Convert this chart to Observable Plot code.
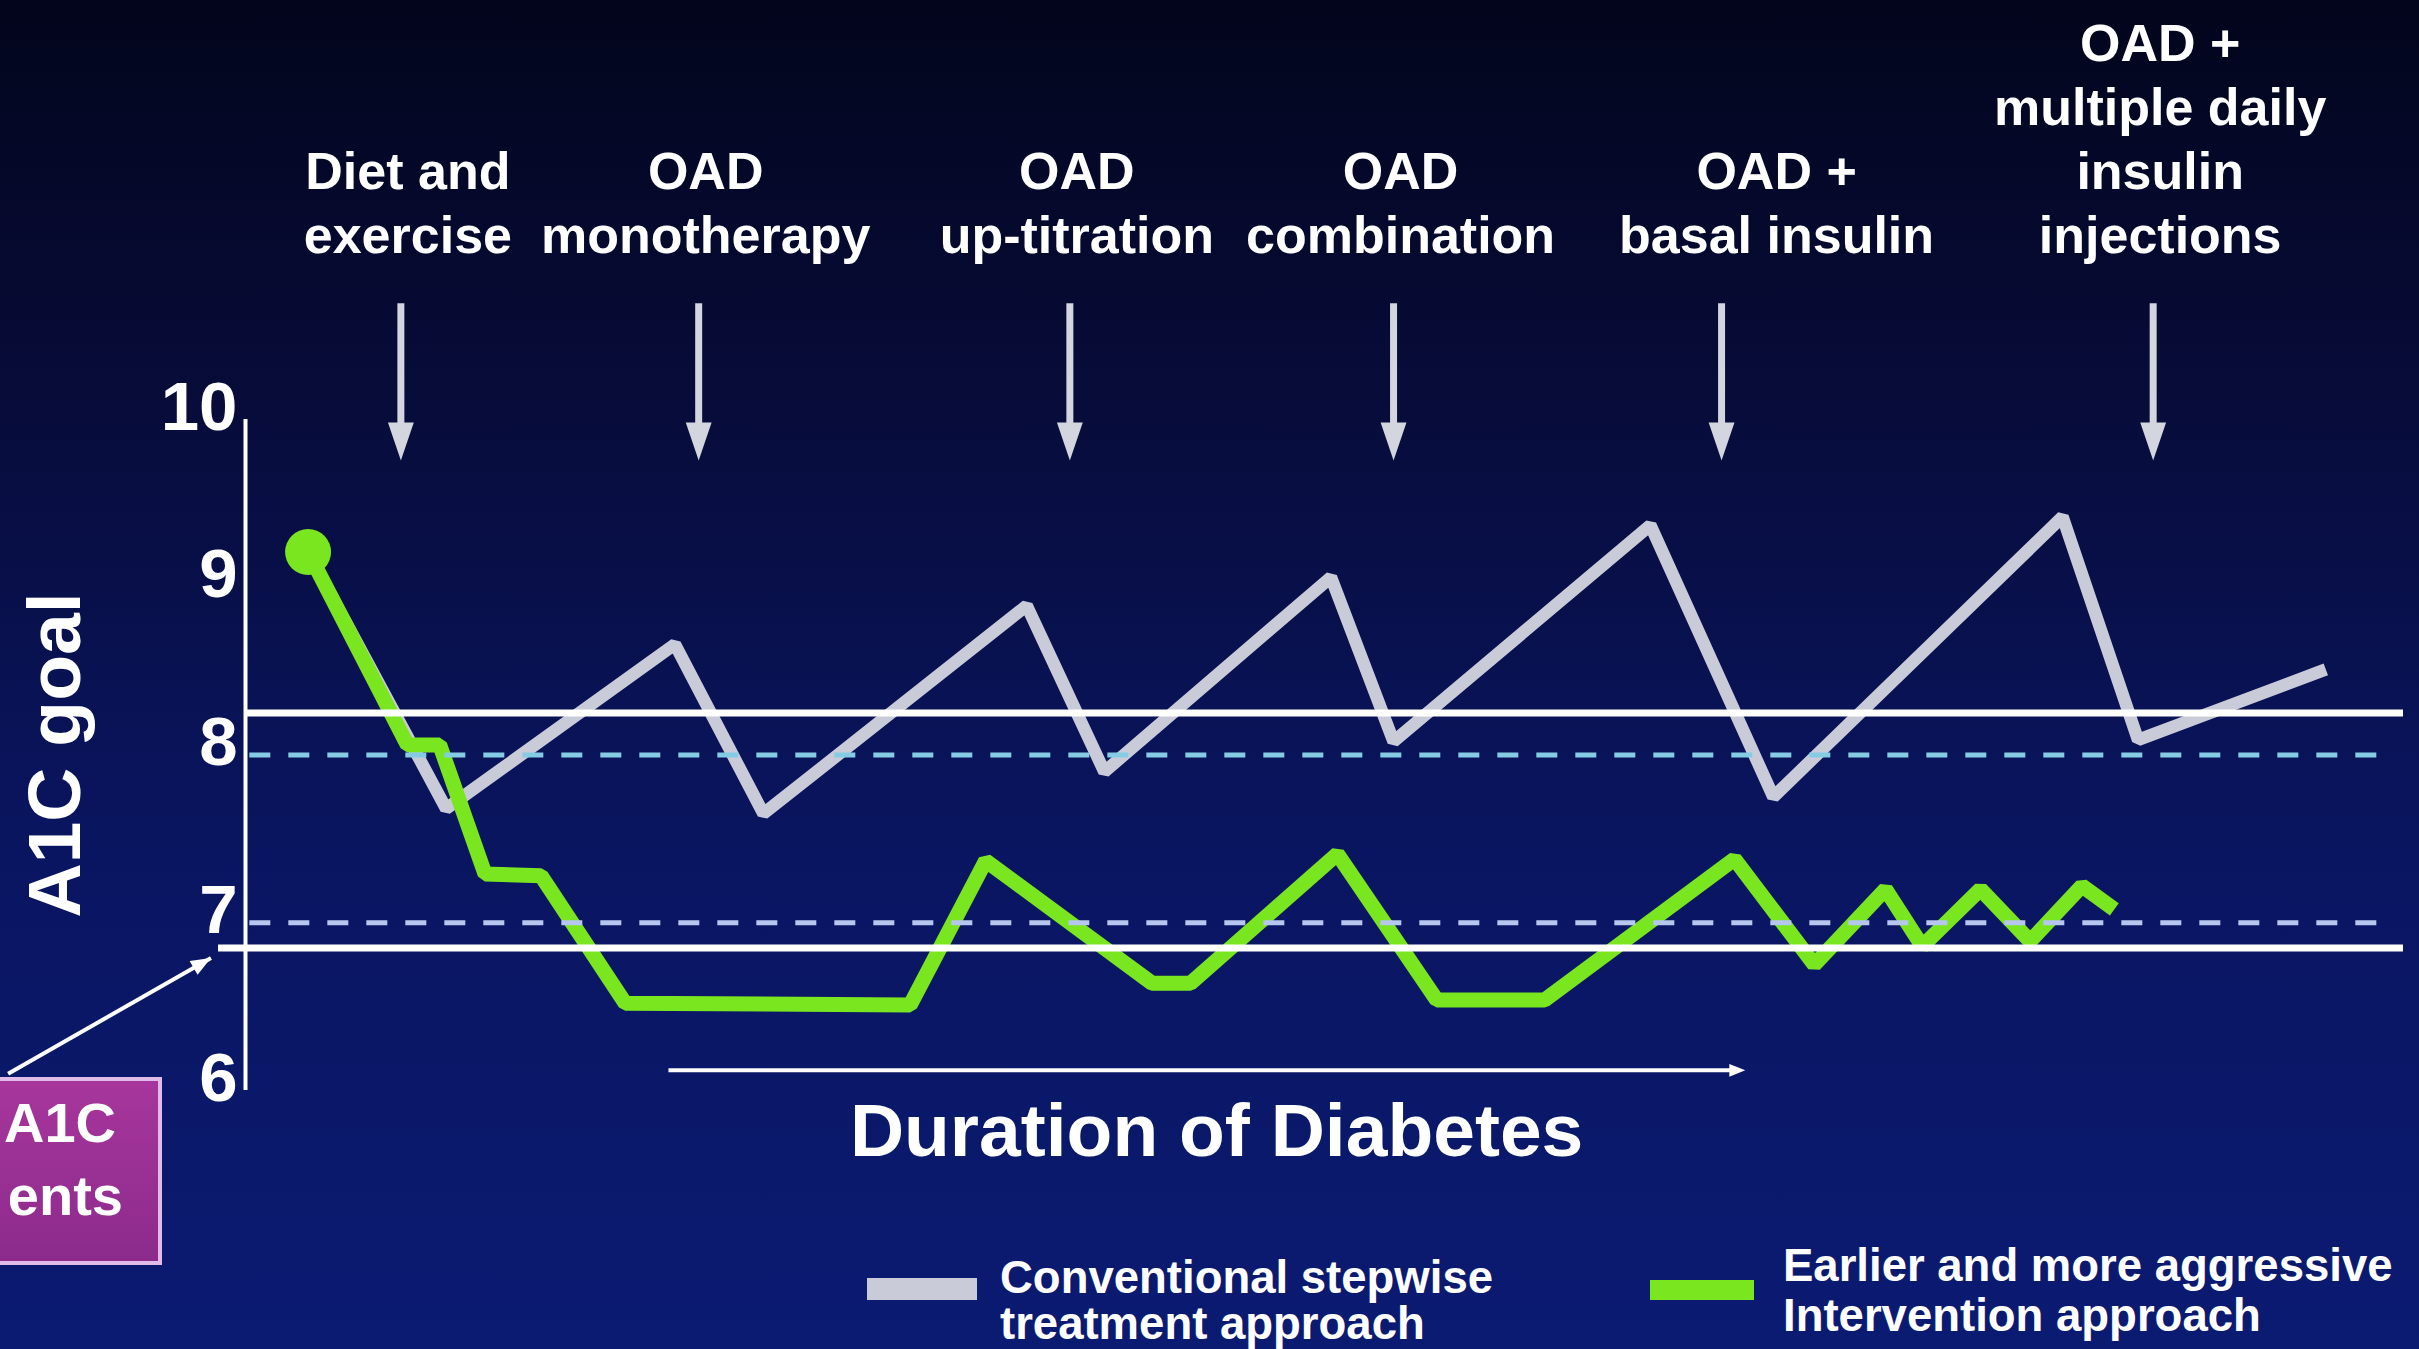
<!DOCTYPE html>
<html>
<head>
<meta charset="utf-8">
<script src="https://cdn.jsdelivr.net/npm/d3@7"></script>
<script src="https://cdn.jsdelivr.net/npm/@observablehq/plot@0.6"></script>
<style>
  html, body { margin: 0; padding: 0; }
  body {
    width: 2419px; height: 1349px; overflow: hidden;
    background: linear-gradient(to bottom, #03051c 0%, #070c3a 30%, #0a1560 62%, #0b1b72 100%);
    font-family: "Liberation Sans", Arial, Helvetica, sans-serif;
  }
  #chart { position: relative; width: 2419px; height: 1349px; }
  #chart svg { position: absolute; left: 0; top: 0; }
  .swatch { position: absolute; }
  .legend-text {
    position: absolute; color: #fff; font-weight: bold;
    font-size: 45.5px; white-space: nowrap;
  }
  .callout {
    position: absolute; left: -30px; top: 1077px; width: 192px; height: 188px;
    box-sizing: border-box; border: 4px solid #e2bce8;
    background: linear-gradient(to bottom, #a7369c, #8c2b8c);
  }
  .callout-line {
    position: absolute; color: #fff; font-weight: bold;
    font-size: 56px; line-height: 56px; white-space: nowrap;
  }
</style>
</head>
<body>
<div id="chart"></div>
<script>
// Duration of diabetes (arbitrary time units, 0-100) and A1C (%) for each strategy
const conventionalTime = [2.9, 9.3, 19.9, 24.0, 36.2, 39.8, 50.3, 53.2, 65.1, 70.8, 84.2, 87.7, 96.4];
const conventionalA1c  = [9.21, 7.68, 8.66, 7.65, 8.89, 7.90, 9.06, 8.08, 9.37, 7.75, 9.42, 8.09, 8.51];

const aggressiveTime = [2.9, 7.5, 9.0, 11.1, 13.7, 17.6, 30.8, 34.3, 42.0, 43.8, 50.6, 55.2, 60.2, 69.0, 72.7, 76.0, 77.7, 80.4, 82.7, 85.1, 86.6];
const aggressiveA1c  = [9.21, 8.06, 8.06, 7.29, 7.28, 6.52, 6.51, 7.37, 6.64, 6.64, 7.41, 6.54, 6.54, 7.38, 6.75, 7.20, 6.86, 7.20, 6.89, 7.22, 7.08];

// Treatment steps and when each one starts
const phaseLabels = [
  "Diet and\nexercise",
  "OAD\nmonotherapy",
  "OAD\nup-titration",
  "OAD\ncombination",
  "OAD +\nbasal insulin",
  "OAD +\nmultiple daily\ninsulin\ninjections"
];
const phaseStart = [7.2, 21.0, 38.2, 53.2, 68.4, 88.4];

// Reference levels
const goalLevels = [8, 7];        // dashed A1C goals
const bandLevels = [8.25, 6.85];  // solid band edges
const yTicks = [6, 7, 8, 9, 10];

const seriesNames = ["Conventional stepwise\ntreatment approach", "Earlier and more aggressive\nIntervention approach"];
const calloutLines = ["A1C", "ents"];
const axisTitle = "A1C goal";
const durationTitle = "Duration of Diabetes";

// ---- build tables ----
const conventional = conventionalTime.map((t, i) => ({t, a1c: conventionalA1c[i]}));
const aggressive = aggressiveTime.map((t, i) => ({t, a1c: aggressiveA1c[i]}));
const phases = phaseLabels.map((label, i) => ({label, at: phaseStart[i]}));

const GRAY = "#cacbd9";
const GREEN = "#79e61f";
const ARROW = "#d3d5df";

// narrow, downward-pointing filled arrowhead centred on its position
const arrowHead = {
  draw(ctx, size) {
    const r = Math.sqrt(size / Math.PI);
    ctx.moveTo(-0.68 * r, -r);
    ctx.lineTo(0.68 * r, -r);
    ctx.lineTo(0, r);
    ctx.closePath();
  }
};
// right-pointing filled arrowhead whose tip sits on its position
const tipHead = {
  draw(ctx, size) {
    const r = Math.sqrt(size / Math.PI);
    ctx.moveTo(0, 0);
    ctx.lineTo(-2 * r, -0.8 * r);
    ctx.lineTo(-2 * r, 0.8 * r);
    ctx.closePath();
  }
};

const labelFont = {fontSize: 52, fontWeight: "bold", fill: "white", lineHeight: 1.23};
const nudged = d => d.label.includes("basal");

// pointer from the callout box to the lower band edge
const pointer = {x1: -11.0, y1: 6.10, x2: -1.6, y2: 6.79};
const pointerAngle = Math.atan2(-(pointer.y2 - pointer.y1) * 167.75, (pointer.x2 - pointer.x1) * 21.58) * 180 / Math.PI;

const chart = Plot.plot({
  width: 2419,
  height: 1349,
  marginLeft: 245,
  marginRight: 16,
  marginTop: 419,
  marginBottom: 259,
  x: {domain: [0, 100], axis: null},
  y: {domain: [6, 10], axis: null},
  style: {background: "transparent", color: "white", fontFamily: "'Liberation Sans', Arial, Helvetica, sans-serif", overflow: "visible"},
  marks: [
    // phase arrows
    Plot.ruleX(phases, {x: "at", y1: 10.69, y2: 9.975, stroke: ARROW, strokeWidth: 7}),
    Plot.dot(phases, {x: "at", y: 9.869, r: 19, symbol: arrowHead, fill: ARROW, stroke: "none"}),
    // phase labels
    Plot.text(phases.filter(d => !nudged(d)), {x: "at", text: "label", frameAnchor: "top", lineAnchor: "bottom", textAnchor: "middle", dx: 7, dy: -167, ...labelFont}),
    Plot.text(phases.filter(nudged), {x: "at", text: "label", frameAnchor: "top", lineAnchor: "bottom", textAnchor: "middle", dx: 55, dy: -167, ...labelFont}),

    // y axis
    Plot.ruleX([0], {y1: 6, y2: 10, stroke: "white", strokeWidth: 4}),
    Plot.axisY({ticks: yTicks, tickFormat: d => String(d), tickSize: 0, tickPadding: 8, fontSize: 69, fontWeight: "bold", fill: "white", dy: -12, label: null}),
    Plot.text([axisTitle], {frameAnchor: "left", dx: -190, rotate: -90, textAnchor: "middle", lineAnchor: "middle", fontSize: 75, fontWeight: "bold", fill: "white"}),

    // series
    Plot.line(conventional, {x: "t", y: "a1c", stroke: GRAY, strokeWidth: 12.5, strokeLinejoin: "miter", strokeLinecap: "butt"}),
    Plot.line(aggressive, {x: "t", y: "a1c", stroke: GREEN, strokeWidth: 15, strokeLinejoin: "miter", strokeLinecap: "butt"}),
    Plot.dot(aggressive.slice(0, 1), {x: "t", y: "a1c", r: 23, fill: GREEN, stroke: "none"}),

    // reference levels
    Plot.ruleY([bandLevels[0]], {x1: 0, x2: 100, stroke: "white", strokeWidth: 7}),
    Plot.ruleY([bandLevels[1]], {x1: -1.25, x2: 100, stroke: "white", strokeWidth: 7}),
    Plot.ruleY([goalLevels[0]], {x1: 0.2, x2: 99.2, stroke: "#86cbe4", strokeWidth: 5, strokeDasharray: "21,18"}),
    Plot.ruleY([goalLevels[1]], {x1: 0.2, x2: 99.2, stroke: "#b6c6ee", strokeWidth: 5, strokeDasharray: "21,18"}),

    // duration arrow and title
    Plot.link([0], {x1: 19.6, x2: 69.0, y1: 6.12, y2: 6.12, stroke: "white", strokeWidth: 4}),
    Plot.dot([0], {x: 69.5, y: 6.12, r: 8, symbol: tipHead, fill: "white", stroke: "none"}),
    Plot.text([durationTitle], {x: 45, frameAnchor: "bottom", lineAnchor: "middle", textAnchor: "middle", dy: 41, fontSize: 75, fontWeight: "bold", fill: "white"}),

    // callout pointer
    Plot.link([pointer], {x1: "x1", y1: "y1", x2: "x2", y2: "y2", stroke: "white", strokeWidth: 4}),
    Plot.dot([pointer], {x: "x2", y: "y2", r: 10, symbol: tipHead, rotate: pointerAngle, fill: "white", stroke: "none"})
  ]
});

const root = document.getElementById("chart");
root.appendChild(chart);

// callout box (extends past the left edge)
const box = document.createElement("div");
box.className = "callout";
root.appendChild(box);
[[calloutLines[0], 116, 1095], [calloutLines[1], 123, 1168]].forEach(([txt, right, top]) => {
  const s = document.createElement("div");
  s.className = "callout-line";
  s.textContent = txt;
  s.style.right = (2419 - right) + "px";
  s.style.top = top + "px";
  root.appendChild(s);
});

// legend
const legendItems = [
  {name: seriesNames[0], color: GRAY, sx: 867, sy: 1278, sw: 110, sh: 22, tx: 1000, ty: 1255, lh: 46},
  {name: seriesNames[1], color: GREEN, sx: 1650, sy: 1280, sw: 104, sh: 20, tx: 1783, ty: 1241, lh: 50}
];
legendItems.forEach(it => {
  const sw = document.createElement("div");
  sw.className = "swatch";
  Object.assign(sw.style, {left: it.sx + "px", top: it.sy + "px", width: it.sw + "px", height: it.sh + "px", background: it.color});
  root.appendChild(sw);
  const tx = document.createElement("div");
  tx.className = "legend-text";
  tx.style.left = it.tx + "px";
  tx.style.top = it.ty + "px";
  tx.style.lineHeight = it.lh + "px";
  it.name.split("\n").forEach((line, i) => {
    if (i) tx.appendChild(document.createElement("br"));
    tx.appendChild(document.createTextNode(line));
  });
  root.appendChild(tx);
});
</script>
</body>
</html>
